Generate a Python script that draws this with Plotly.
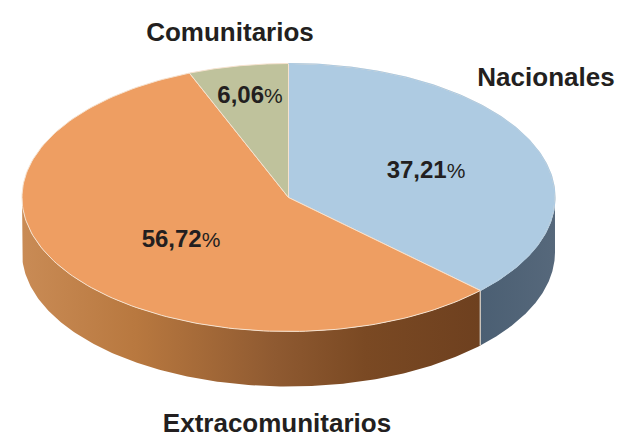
import numpy as np
import plotly.graph_objects as go

categories = ["Nacionales", "Extracomunitarios", "Comunitarios"]
shares = [37.21, 56.72, 6.06]
value_labels = ["37,21", "56,72", "6,06"]
top_colors = ["#aecbe2", "#ee9e62", "#bfc29c"]

W, H = 621, 436
CX, CY, RX, RY, DEPTH = 288.5, 197.5, 266.5, 134, 55
EDGE = "#f6e2cf"
FONT = "Liberation Sans"
ORANGE_WALL = [[0, "#c98b55"], [0.25, "#b8783f"], [0.55, "#8f5a31"], [0.75, "#7a4923"], [1, "#6e401f"]]
BLUE_WALL = [[0, "#4b5f73"], [1, "#56687b"]]


def ex(t):
    return CX + RX * np.sin(t)


def ey(t):
    return CY - RY * np.cos(t)


fracs = np.array(shares) / sum(shares)
edges = np.concatenate([[0], np.cumsum(fracs)]) * 2 * np.pi
fig = go.Figure()


def wall(t0, t1, scale):
    tt = np.linspace(t0, t1, 200)
    xs = np.concatenate([ex(tt), ex(tt[::-1])])
    ys = np.concatenate([ey(tt), ey(tt[::-1]) + DEPTH])
    fig.add_trace(go.Scatter(
        x=xs, y=ys, mode="lines", fill="toself",
        fillgradient=dict(type="horizontal", colorscale=scale,
                          start=float(xs.min()), stop=float(xs.max())),
        line=dict(width=0), hoverinfo="skip", showlegend=False))


wall(np.pi / 2, edges[1], BLUE_WALL)
wall(edges[1], 3 * np.pi / 2, ORANGE_WALL)

fig.add_trace(go.Scatter(
    x=[ex(edges[1])] * 2, y=[ey(edges[1]), ey(edges[1]) + DEPTH], mode="lines",
    line=dict(color="#c9c2ba", width=1.4), hoverinfo="skip", showlegend=False))

for i in range(3):
    t = np.linspace(edges[i], edges[i + 1], 160)
    fig.add_trace(go.Scatter(
        x=np.concatenate([[CX], ex(t), [CX]]),
        y=np.concatenate([[CY], ey(t), [CY]]),
        mode="lines", fill="toself", fillcolor=top_colors[i],
        line=dict(color=EDGE, width=1), hoverinfo="skip", showlegend=False))

t = np.linspace(edges[0], edges[1], 160)
fig.add_trace(go.Scatter(x=ex(t), y=ey(t), mode="lines",
                         line=dict(color=top_colors[0], width=1.2),
                         hoverinfo="skip", showlegend=False))

label_x = [426, 181, 250]
label_y = [171.5, 240.5, 96.5]
fig.add_trace(go.Scatter(
    x=label_x, y=label_y, mode="text",
    text=[f"<b>{v}</b><span style='font-size:21px'>%</span>" for v in value_labels],
    textfont=dict(family=FONT, size=24, color="#231f20"),
    hoverinfo="skip", showlegend=False))

name_x = [546, 277, 230]
name_y = [79, 425, 34]
fig.add_trace(go.Scatter(
    x=name_x, y=name_y, mode="text",
    text=[f"<b>{c}</b>" for c in categories],
    textfont=dict(family=FONT, size=26, color="#231f20"),
    hoverinfo="skip", showlegend=False, cliponaxis=False))

fig.update_layout(
    width=W, height=H, margin=dict(l=0, r=0, t=0, b=0),
    paper_bgcolor="white", plot_bgcolor="white",
    xaxis=dict(range=[0, W], visible=False, fixedrange=True),
    yaxis=dict(range=[H, 0], visible=False, fixedrange=True),
)
fig.write_html("out.html", config=dict(displayModeBar=False),
               post_script="document.body.style.margin='0';document.documentElement.style.overflow='hidden';")
